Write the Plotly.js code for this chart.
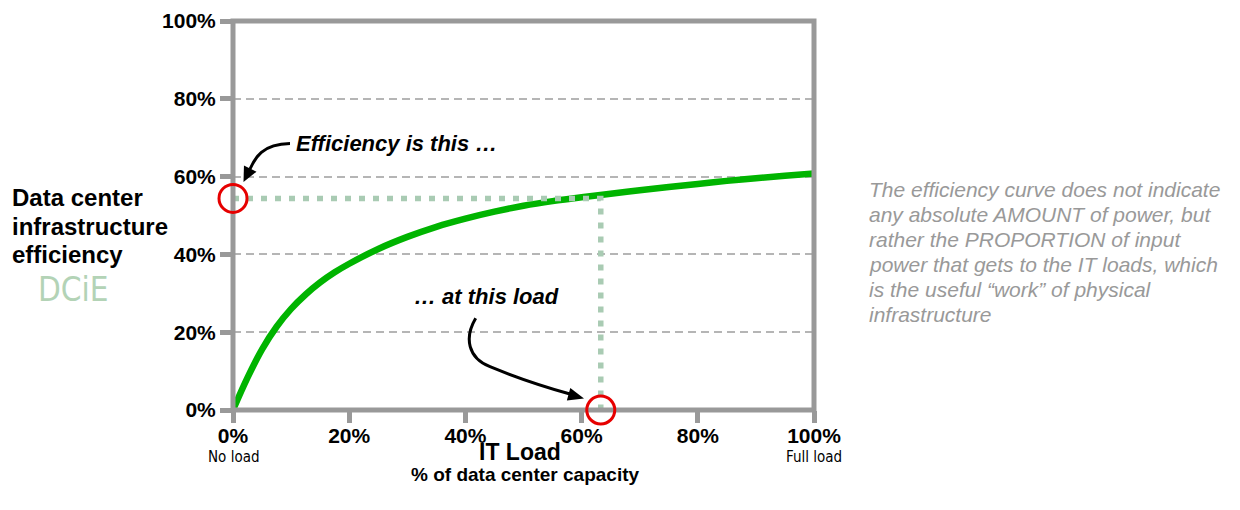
<!DOCTYPE html>
<html><head><meta charset="utf-8">
<script src="https://cdn.plot.ly/plotly-3.0.1.min.js"></script>
<style>html,body{margin:0;padding:0;background:#fff}#chart{width:1240px;height:510px}</style>
</head><body><div id="chart"></div>
<script>
// ---- data ----
const itLoad = [0,2.5,5,7.5,10,12.5,15,17.5,20,25,30,35,40,45,50,55,60,65,70,75,80,85,90,95,100];
const dcie   = [0,8.3,15.6,21.4,26.0,29.7,32.8,35.4,37.6,41.4,44.5,47.1,49.2,51.0,52.5,53.7,54.7,55.6,56.5,57.3,58.1,58.9,59.6,60.2,60.8];
const refLoad = 63.3;   // highlighted operating load (%)
const refEff  = 54.4;   // efficiency at that load (%)
const tickVals = [0,20,40,60,80,100];
const tickLabels = ['0%','20%','40%','60%','80%','100%'];
const loadNotes = ['No load','Full load'];
const leftTitle = ['Data center','infrastructure','efficiency'];
const noteLines = ['The efficiency curve does not indicate','any absolute AMOUNT of power, but',
  'rather the PROPORTION of input','power that gets to the IT loads, which',
  'is the useful “work” of physical','infrastructure'];

// ---- layout geometry ----
const L = 233, T = 21, W = 581, H = 389;
const px2x = px => (px - L) / W * 100;
const py2y = py => (T + H - py) / H * 100;
const ppx = px => (px - L) / W;
const ppy = py => 1 - (py - T) / H;
const P = (a, b) => px2x(a) + ',' + py2y(b);

function head(tx, ty, dx, dy, len, hw) {
  const bx = tx - dx * len, by = ty - dy * len;
  const nx = -dy, ny = dx;
  return 'M ' + P(tx, ty) + ' L ' + P(bx + nx * hw, by + ny * hw) + ' L ' + P(bx - nx * hw, by - ny * hw) + ' Z';
}
const n1 = Math.hypot(-6, 12), d1 = [-6 / n1, 12 / n1];
const n2 = Math.hypot(24, 6.6), d2 = [24 / n2, 6.6 / n2];

const FONT = 'Liberation Sans, Arial, sans-serif';
const NARROW = 'Liberation Sans Narrow, Arial Narrow, DejaVu Sans Condensed, sans-serif';

const traces = [
  {x: itLoad, y: dcie, type: 'scatter', mode: 'lines',
   line: {color: '#00b400', width: 6.5, shape: 'spline', smoothing: 1}, hoverinfo: 'skip'},
  {x: [0, refLoad, refLoad], y: [refEff, refEff, 0], type: 'scatter', mode: 'lines',
   line: {color: '#a9cbb3', width: 5.5, dash: '6px,8px'}, hoverinfo: 'skip'}
];

const axisCommon = {
  range: [0, 100], tickvals: tickVals, ticktext: tickLabels.map(t => '<b>' + t + '</b>'),
  showline: false, zeroline: false, ticks: 'outside', ticklen: 12, tickwidth: 5, tickcolor: '#999999',
  tickfont: {family: FONT, size: 21, color: '#000'}, fixedrange: true
};

const annotations = [];
leftTitle.forEach((t, i) => annotations.push({
  text: '<b>' + t + '</b>', xref: 'paper', yref: 'paper', x: ppx(10), y: ppy([197, 226, 254][i]),
  xanchor: 'left', yanchor: 'middle', showarrow: false, font: {family: FONT, size: 24, color: '#000'}}));
noteLines.forEach((t, i) => annotations.push({
  text: '<i>' + t + '</i>', xref: 'paper', yref: 'paper', x: ppx(867), y: ppy(190 + i * 24.8),
  xanchor: 'left', yanchor: 'middle', showarrow: false, font: {family: FONT, size: 21, color: '#999999'}}));
annotations.push(
  {text: 'DCiE', xref: 'paper', yref: 'paper', x: ppx(73), y: ppy(289), xanchor: 'center', yanchor: 'middle',
   showarrow: false, font: {family: NARROW, size: 33, color: '#b3d3b6'}},
  {text: '<b><i>Efficiency is this …</i></b>', xref: 'paper', yref: 'paper', x: ppx(396), y: ppy(143),
   xanchor: 'center', yanchor: 'middle', showarrow: false, font: {family: FONT, size: 22, color: '#000'}},
  {text: '<b><i>… at this load</i></b>', xref: 'paper', yref: 'paper', x: ppx(486), y: ppy(296),
   xanchor: 'center', yanchor: 'middle', showarrow: false, font: {family: FONT, size: 22, color: '#000'}},
  {text: '<b>IT Load</b>', xref: 'paper', yref: 'paper', x: ppx(520), y: ppy(452),
   xanchor: 'center', yanchor: 'middle', showarrow: false, font: {family: FONT, size: 23, color: '#000'}},
  {text: '<b>% of data center capacity</b>', xref: 'paper', yref: 'paper', x: ppx(525), y: ppy(474),
   xanchor: 'center', yanchor: 'middle', showarrow: false, font: {family: FONT, size: 19, color: '#000'}},
  {text: loadNotes[0], xref: 'x', yref: 'paper', x: tickVals[0], y: ppy(457),
   xanchor: 'center', yanchor: 'middle', showarrow: false, font: {family: NARROW, size: 15, color: '#000'}},
  {text: loadNotes[1], xref: 'x', yref: 'paper', x: tickVals[5], y: ppy(457),
   xanchor: 'center', yanchor: 'middle', showarrow: false, font: {family: NARROW, size: 15, color: '#000'}}
);

const layout = {
  width: 1240, height: 510,
  margin: {l: L, r: 1240 - L - W, t: T, b: 510 - T - H, pad: 0},
  paper_bgcolor: '#fff', plot_bgcolor: '#fff', showlegend: false,
  xaxis: Object.assign({}, axisCommon, {showgrid: false, ticklabelstandoff: -5}),
  yaxis: Object.assign({}, axisCommon, {showgrid: true, gridcolor: '#b5b5b5', gridwidth: 2, griddash: '8px,5px'}),
  shapes: [
    {type: 'rect', xref: 'paper', yref: 'paper', x0: 0, x1: 1, y0: 0, y1: 1,
     line: {color: '#999999', width: 5}, layer: 'above'},
    {type: 'circle', xref: 'paper', yref: 'y', xsizemode: 'pixel', ysizemode: 'pixel',
     xanchor: 0, yanchor: refEff, x0: -14, x1: 14, y0: -14, y1: 14,
     line: {color: '#e60000', width: 3}, layer: 'above'},
    {type: 'circle', xref: 'x', yref: 'paper', xsizemode: 'pixel', ysizemode: 'pixel',
     xanchor: refLoad, yanchor: 0, x0: -14, x1: 14, y0: -14, y1: 14,
     line: {color: '#e60000', width: 3}, layer: 'above'},
    {type: 'path', xref: 'x', yref: 'y', layer: 'above',
     path: 'M ' + P(290, 143.5) + ' C ' + P(262, 144) + ' ' + P(255, 158) + ' ' + P(250, 169),
     line: {color: '#000', width: 3}},
    {type: 'path', xref: 'x', yref: 'y', layer: 'above',
     path: head(243.5, 182, d1[0], d1[1], 15, 7), fillcolor: '#000', line: {width: 0}},
    {type: 'path', xref: 'x', yref: 'y', layer: 'above',
     path: 'M ' + P(475.7, 318.3) + ' C ' + P(464, 338) + ' ' + P(468, 358) + ' ' + P(490, 366.7) +
           ' C ' + P(515, 377) + ' ' + P(545, 387) + ' ' + P(570, 394),
     line: {color: '#000', width: 3}},
    {type: 'path', xref: 'x', yref: 'y', layer: 'above',
     path: head(584, 398.5, d2[0], d2[1], 16, 6.5), fillcolor: '#000', line: {width: 0}}
  ],
  annotations: annotations
};

Plotly.newPlot('chart', traces, layout, {staticPlot: true, displayModeBar: false});
</script></body></html>
